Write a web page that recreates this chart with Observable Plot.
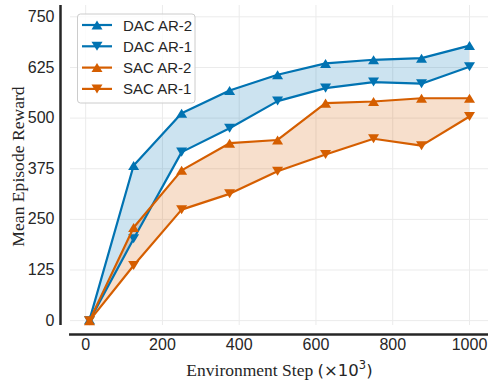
<!DOCTYPE html>
<html><head><meta charset="utf-8">
<script src="https://cdn.jsdelivr.net/npm/d3@7"></script>
<script src="https://cdn.jsdelivr.net/npm/@observablehq/plot@0.6"></script>
<style>body{margin:0;background:#fff} #chart{width:495px;height:388px}</style>
</head><body><div id="chart"></div>
<script>
const steps  = [10, 125, 250, 375, 500, 625, 750, 875, 1000];
const dacAR2 = [2, 383, 512, 568, 607, 635, 644, 648, 679];
const dacAR1 = [0, 202, 416, 475, 542, 574, 589, 585, 627];
const sacAR2 = [0, 230, 371, 438, 446, 537, 541, 549, 549];
const sacAR1 = [0, 136, 274, 313, 369, 410, 449, 432, 504];
const xTicks = [0, 200, 400, 600, 800, 1000];
const yTicks = [0, 125, 250, 375, 500, 625, 750];
const seriesNames = ["DAC AR-2", "DAC AR-1", "SAC AR-2", "SAC AR-1"];
const xLabelMain = "Environment Step ";
const yLabel = "Mean Episode Reward";

const blue = "#0173b2", orange = "#d55e00";
const xDomain = [-39.5, 1049.5], yDomain = [-12, 778];

const triUp = {draw(ctx, size){const r = Math.sqrt(size/Math.PI), h = r*0.82; ctx.moveTo(0,-h); ctx.lineTo(r,h); ctx.lineTo(-r,h); ctx.closePath();}};
const triDown = {draw(ctx, size){const r = Math.sqrt(size/Math.PI), h = r*0.82; ctx.moveTo(0,h); ctx.lineTo(r,-h); ctx.lineTo(-r,-h); ctx.closePath();}};

const series = [
  {name: seriesNames[0], vals: dacAR2, color: blue, sym: triUp},
  {name: seriesNames[1], vals: dacAR1, color: blue, sym: triDown},
  {name: seriesNames[2], vals: sacAR2, color: orange, sym: triUp},
  {name: seriesNames[3], vals: sacAR1, color: orange, sym: triDown}
];
const rows = s => steps.map((x, i) => ({x, y: s.vals[i]}));
const band = (hi, lo) => steps.map((x, i) => ({x, hi: hi[i], lo: lo[i]}));

const marks = [
  Plot.gridX(xTicks, {stroke: "#ebebeb", strokeOpacity: 1, strokeWidth: 1}),
  Plot.gridY(yTicks, {stroke: "#ebebeb", strokeOpacity: 1, strokeWidth: 1}),
  Plot.areaY(band(dacAR2, dacAR1), {x: "x", y1: "lo", y2: "hi", fill: blue, fillOpacity: 0.2}),
  Plot.areaY(band(sacAR2, sacAR1), {x: "x", y1: "lo", y2: "hi", fill: orange, fillOpacity: 0.2})
];
for (const s of series) {
  marks.push(Plot.line(rows(s), {x: "x", y: "y", stroke: s.color, strokeWidth: 2.2, strokeLinejoin: "round"}));
  marks.push(Plot.dot(rows(s), {x: "x", y: "y", symbol: s.sym, r: 5.5, fill: s.color, stroke: "none"}));
}
marks.push(
  Plot.axisX(xTicks, {tickSize: 0, tickPadding: 13, label: null, fontSize: 16, tickFormat: d => String(d)}),
  Plot.axisY(yTicks, {tickSize: 0, tickPadding: 16, label: null, fontSize: 16, tickFormat: d => String(d)}),
  Plot.ruleX([xDomain[0]], {y1: yDomain[0], y2: yDomain[1], dx: -10, stroke: "#262626", strokeWidth: 2.5}),
  Plot.ruleY([yDomain[0]], {x1: xDomain[0] - 2.5, x2: xDomain[1], dy: 9, stroke: "#262626", strokeWidth: 2.5})
);

const chart = Plot.plot({
  width: 495, height: 388,
  marginLeft: 70, marginRight: 7, marginTop: 5, marginBottom: 63,
  style: {fontFamily: "'Liberation Sans', Arial, sans-serif", fontSize: "16px", color: "#262626", background: "#fff", overflow: "visible"},
  x: {domain: xDomain},
  y: {domain: yDomain},
  marks
});
document.getElementById("chart").appendChild(chart);

const svg = d3.select(chart);
// x label
const xl = svg.append("text").attr("x", 279.5).attr("y", 376).attr("text-anchor", "middle").attr("fill", "#262626");
xl.append("tspan").attr("font-family", "'Liberation Serif', serif").attr("font-size", 17.5).text(xLabelMain);
xl.append("tspan").attr("font-family", "'DejaVu Sans', sans-serif").attr("font-size", 16.5).text("(×10");
xl.append("tspan").attr("font-family", "'DejaVu Sans', sans-serif").attr("font-size", 11.5).attr("dy", -7).text("3");
xl.append("tspan").attr("font-family", "'DejaVu Sans', sans-serif").attr("font-size", 16.5).attr("dy", 7).text(")");
// y label
svg.append("text").attr("transform", "translate(18,166.5) rotate(-90)").attr("text-anchor", "middle")
  .attr("dominant-baseline", "central").attr("font-family", "'Liberation Serif', serif").attr("font-size", 17.6)
  .attr("fill", "#262626").text(yLabel);
// legend
const lg = svg.append("g");
lg.append("rect").attr("x", 77.5).attr("y", 14).attr("width", 117.5).attr("height", 89).attr("rx", 3)
  .attr("fill", "#fff").attr("fill-opacity", 0.8).attr("stroke", "#cccccc").attr("stroke-width", 1);
series.forEach((s, i) => {
  const cy = 25 + i * 21.3;
  lg.append("line").attr("x1", 82).attr("x2", 112).attr("y1", cy).attr("y2", cy).attr("stroke", s.color).attr("stroke-width", 2.2);
  const p = d3.path(); s.sym.draw(p, Math.PI * 5.5 * 5.5);
  lg.append("path").attr("d", p.toString()).attr("transform", `translate(97,${cy})`).attr("fill", s.color);
  lg.append("text").attr("x", 123).attr("y", cy).attr("text-anchor", "start").attr("dominant-baseline", "central")
    .attr("font-family", "'Liberation Sans', Arial, sans-serif").attr("font-size", 15).attr("fill", "#262626").text(s.name);
});
</script>
</body></html>
